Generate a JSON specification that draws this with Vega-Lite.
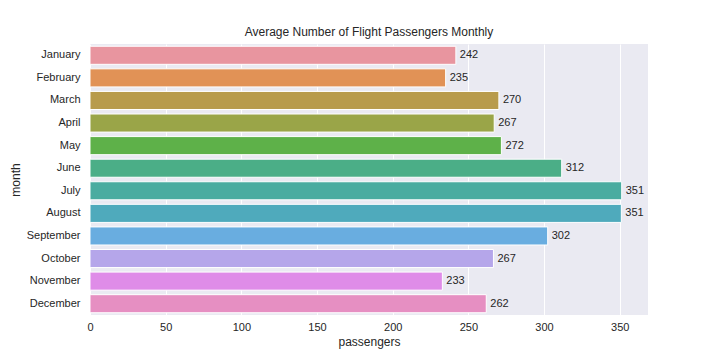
{
  "$schema": "https://vega.github.io/schema/vega-lite/v6.json",
  "width": 558,
  "height": 271,
  "autosize": {"type": "none"},
  "padding": {"left": 90, "top": 44, "right": 72, "bottom": 45},
  "background": "white",
  "title": {"text": "Average Number of Flight Passengers Monthly", "font": "Liberation Sans", "fontSize": 12, "fontWeight": "normal", "color": "#262626", "offset": 5, "anchor": "middle"},
  "data": {"values": [
    {"month": "January", "passengers": 241.75},
    {"month": "February", "passengers": 235.0},
    {"month": "March", "passengers": 270.17},
    {"month": "April", "passengers": 267.08},
    {"month": "May", "passengers": 271.83},
    {"month": "June", "passengers": 311.67},
    {"month": "July", "passengers": 351.33},
    {"month": "August", "passengers": 351.08},
    {"month": "September", "passengers": 302.42},
    {"month": "October", "passengers": 266.58},
    {"month": "November", "passengers": 232.83},
    {"month": "December", "passengers": 261.83}
  ]},
  "config": {
    "view": {"fill": "#eaeaf2", "stroke": null},
    "font": "Liberation Sans",
    "axis": {"domain": false, "ticks": false, "labelColor": "#262626", "titleColor": "#262626", "labelFont": "Liberation Sans", "titleFont": "Liberation Sans", "labelFontSize": 11, "titleFontSize": 12, "titleFontWeight": "normal"}
  },
  "encoding": {
    "y": {"field": "month", "type": "nominal", "sort": null, "scale": {"paddingInner": 0.2, "paddingOuter": 0.1}, "axis": {"grid": false, "labelPadding": 10, "titlePadding": 4, "title": "month"}},
    "x": {"field": "passengers", "type": "quantitative", "scale": {"domain": [0, 368.7], "nice": false, "zero": true}, "axis": {"values": [0, 50, 100, 150, 200, 250, 300, 350], "grid": true, "gridColor": "white", "gridWidth": 1, "labelFlush": false, "labelPadding": 6, "titlePadding": 4, "title": "passengers"}}
  },
  "layer": [
    {
      "mark": {"type": "bar", "stroke": "white", "strokeWidth": 1},
      "encoding": {
        "color": {"field": "month", "type": "nominal", "sort": null, "legend": null,
          "scale": {"domain": ["January","February","March","April","May","June","July","August","September","October","November","December"],
                    "range": ["#e8959f","#e19256","#b89b4b","#9aa548","#5eb149","#4bae87","#4aaca0","#4faabc","#69ade0","#b5a6ea","#df8ce8","#e68fc2"]}}
      }
    },
    {
      "mark": {"type": "text", "align": "left", "baseline": "middle", "dx": 4, "fontSize": 11, "color": "#262626", "font": "Liberation Sans"},
      "encoding": {"text": {"field": "passengers", "type": "quantitative", "format": ".0f"}}
    }
  ]
}
